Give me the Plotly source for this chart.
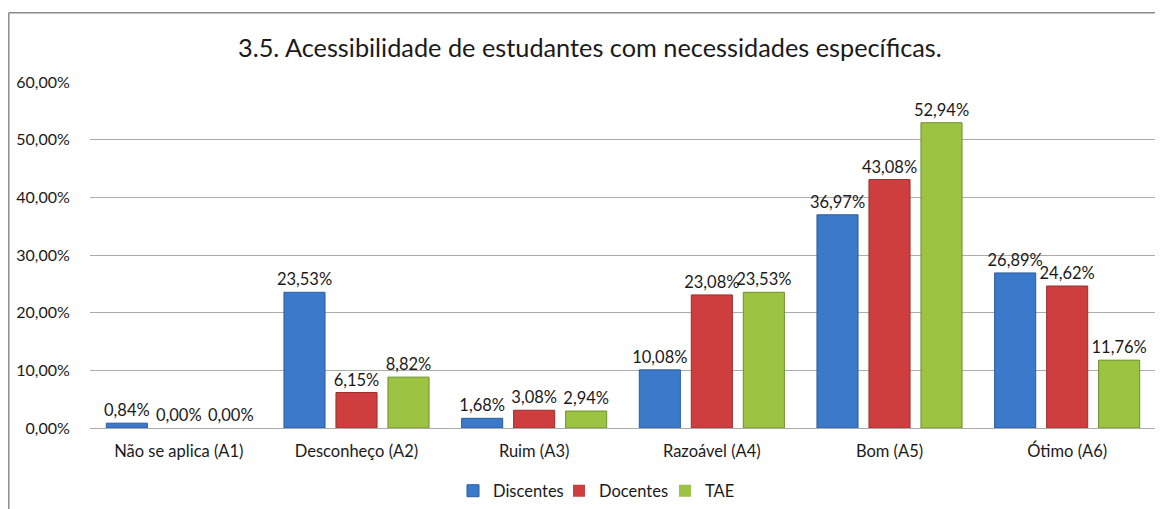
import plotly.graph_objects as go

categories = ["Não se aplica (A1)", "Desconheço (A2)", "Ruim (A3)", "Razoável (A4)", "Bom (A5)", "Ótimo (A6)"]
discentes = [0.0084, 0.2353, 0.0168, 0.1008, 0.3697, 0.2689]
docentes = [0.0000, 0.0615, 0.0308, 0.2308, 0.4308, 0.2462]
tae = [0.0000, 0.0882, 0.0294, 0.2353, 0.5294, 0.1176]
series_names = ["Discentes", "Docentes", "TAE"]
series_values = [discentes, docentes, tae]
fill_colors = ["#3B79CA", "#CF3E3E", "#9DC342"]
line_colors = ["#2C5C9A", "#9A2E2C", "#6E8E2C"]
title_text = "3.5. Acessibilidade de estudantes com necessidades específicas."

FONT = "Lato"
W, H = 1155, 501
L, R, T, B = 82, 7, 74, 81
PW, PH = W - L - R, H - T - B


def px(x):
    return (x - L) / PW


def py(y):
    return (H - B - y) / PH


fig = go.Figure()
for name, vals, fc, lc in zip(series_names, series_values, fill_colors, line_colors):
    fig.add_trace(go.Bar(
        name=name, x=categories, y=vals,
        marker=dict(color=fc, line=dict(color=lc, width=[0 if v == 0 else 1 for v in vals])),
        text=vals, texttemplate="%{y:.2%}", textposition="outside",
        constraintext="none", cliponaxis=False,
        textfont=dict(family=FONT, size=16.5, color="#1A1A1A"),
    ))

fig.update_layout(
    width=W, height=H,
    margin=dict(l=L, r=R, t=T, b=B, autoexpand=False),
    paper_bgcolor="white", plot_bgcolor="white",
    separators=",.",
    barmode="group", bargap=0.122, bargroupgap=0.21,
    font=dict(family=FONT, size=16.5, color="#1A1A1A"),
    showlegend=True,
    legend=dict(orientation="h", x=px(445), xanchor="left",
                y=py(483), yanchor="middle",
                font=dict(family=FONT, size=16.5, color="#1A1A1A"),
                itemwidth=30, entrywidth=61, entrywidthmode="pixels",
                traceorder="normal"),
    xaxis=dict(showline=False, ticks="outside", ticklen=8, tickcolor="rgba(0,0,0,0)",
               automargin=False,
               tickfont=dict(family=FONT, size=16.5, color="#1A1A1A")),
    yaxis=dict(range=[0, 0.6], dtick=0.1, tickformat=".2%", showgrid=True,
               gridcolor="#ABABAB", gridwidth=1, zeroline=True, zerolinecolor="#ABABAB",
               zerolinewidth=1, showline=False, ticks="outside", ticklen=16,
               tickcolor="rgba(0,0,0,0)", automargin=False,
               tickfont=dict(family=FONT, size=16, color="#1A1A1A")),
    annotations=[
        dict(text=title_text, xref="paper", yref="paper",
             x=px(582), y=py(39),
             xanchor="center", yanchor="middle", showarrow=False,
             font=dict(family=FONT, size=25.3, color="#1A1A1A")),
    ],
    shapes=[
        dict(type="line", xref="paper", yref="paper", x0=px(0.8), x1=px(0.8),
             y0=py(4.7), y1=py(H + 20), line=dict(color="#8C8C8C", width=1.5)),
        dict(type="line", xref="paper", yref="paper", x0=px(0.8), x1=px(W + 20),
             y0=py(4.7), y1=py(4.7), line=dict(color="#8C8C8C", width=1.5)),
    ],
)

fig.write_html("out.html")
